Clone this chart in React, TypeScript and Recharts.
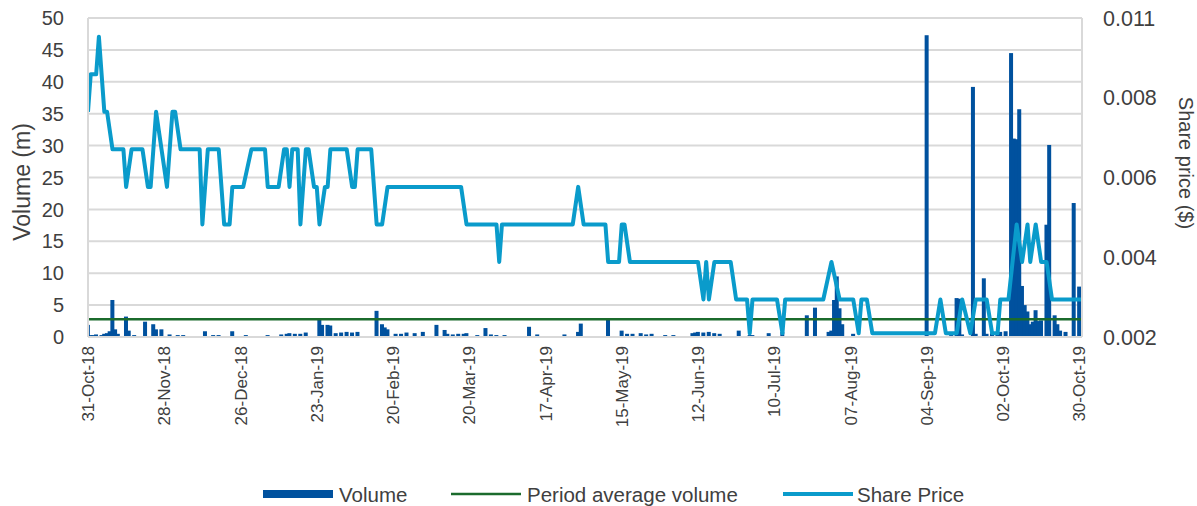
import React from 'react';
import {
  ComposedChart,
  Bar,
  Line,
  XAxis,
  YAxis,
  CartesianGrid,
  ReferenceLine,
  Legend,
} from 'recharts';

const FONT = "'Liberation Sans', Arial, sans-serif";

// X axis: days since 31-Oct-18
const xTickDays = [0, 28, 56, 84, 112, 140, 168, 196, 224, 252, 280, 308, 336, 364];
const xTickLabels = [
  '31-Oct-18', '28-Nov-18', '26-Dec-18', '23-Jan-19', '20-Feb-19', '20-Mar-19', '17-Apr-19',
  '15-May-19', '12-Jun-19', '10-Jul-19', '07-Aug-19', '04-Sep-19', '02-Oct-19', '30-Oct-19',
];

const volumeTicks = [0, 5, 10, 15, 20, 25, 30, 35, 40, 45, 50];
const priceTicks = [0.002, 0.004125, 0.00625, 0.008375, 0.0105];
const priceTickLabels = ['0.002', '0.004', '0.006', '0.008', '0.011'];

const AVG_VOLUME = 2.8;

// [day, volume (m)]
const volume: [number, number][] = [
  [0, 1.9], [1, 0.3], [2, 0.3], [3, 0.4], [5, 0.3], [6, 0.5], [7, 0.6], [8, 0.9], [9, 5.8], [10, 1.2],
  [11, 0.5], [14, 3.2], [15, 1.0], [17, 0.3], [21, 2.4], [24, 2.0], [25, 1.2], [27, 1.2], [30, 0.4],
  [33, 0.3], [35, 0.3], [43, 0.9], [46, 0.3], [48, 0.3], [53, 0.9], [58, 0.3], [66, 0.3], [71, 0.4],
  [73, 0.5], [74, 0.6], [76, 0.5], [78, 0.5], [80, 0.7], [85, 2.7], [86, 1.9], [88, 1.9], [89, 1.8],
  [91, 0.6], [93, 0.7], [95, 0.8], [97, 0.7], [99, 0.8], [106, 4.1], [108, 2.0], [109, 1.5], [110, 1.2],
  [113, 0.5], [115, 0.5], [117, 0.7], [120, 0.6], [123, 0.8], [128, 1.9], [131, 1.1], [132, 0.5],
  [134, 0.4], [136, 0.5], [138, 0.5], [139, 0.6], [143, 0.3], [146, 1.4], [148, 0.4], [150, 0.3],
  [153, 0.3], [162, 1.6], [165, 0.4], [175, 0.4], [180, 0.8], [181, 2.1], [191, 2.8], [196, 1.0],
  [198, 0.5], [200, 0.5], [203, 0.6], [205, 0.4], [207, 0.5], [212, 0.3], [215, 0.3], [222, 0.6],
  [223, 0.7], [224, 0.8], [226, 0.7], [228, 0.8], [230, 0.6], [232, 0.5], [239, 1.0], [243, 0.3],
  [244, 0.3], [250, 0.6], [255, 0.8], [264, 3.4], [267, 4.6], [272, 0.8], [273, 1.0], [274, 5.8],
  [275, 9.5], [276, 4.5], [277, 2.0], [281, 0.5], [308, 47.3], [317, 0.3], [319, 6.1], [320, 6.0],
  [321, 0.4], [325, 39.2], [326, 0.5], [329, 9.2], [330, 0.5], [332, 0.6], [334, 0.5], [335, 0.8],
  [337, 0.9], [339, 44.5], [340, 31.1], [341, 31.0], [342, 35.7], [343, 8.0], [344, 5.0], [345, 4.0],
  [346, 2.0], [347, 2.4], [348, 4.2], [349, 2.5], [350, 2.6], [352, 17.6], [353, 30.1], [355, 3.4],
  [356, 2.0], [357, 1.0], [359, 0.8], [362, 21.0], [364, 7.9],
];

// [day, share price ($)]
const sharePrice: [number, number][] = [
  [0, 0.008], [1, 0.009], [3, 0.009], [4, 0.010], [6, 0.008], [7, 0.008], [9, 0.007], [13, 0.007],
  [14, 0.006], [16, 0.007], [20, 0.007], [22, 0.006], [23, 0.006], [25, 0.008], [29, 0.006], [31, 0.008],
  [32, 0.008], [34, 0.007], [41, 0.007], [42, 0.005], [44, 0.007], [48, 0.007], [50, 0.005], [52, 0.005],
  [53, 0.006], [57, 0.006], [60, 0.007], [65, 0.007], [66, 0.006], [70, 0.006], [72, 0.007], [73, 0.007],
  [74, 0.006], [75, 0.007], [77, 0.007], [78, 0.005], [80, 0.007], [81, 0.007], [83, 0.006], [84, 0.006],
  [85, 0.005], [87, 0.006], [88, 0.006], [89, 0.007], [95, 0.007], [97, 0.006], [98, 0.006], [99, 0.007],
  [104, 0.007], [106, 0.005], [108, 0.005], [110, 0.006], [137, 0.006], [139, 0.005], [150, 0.005],
  [151, 0.004], [152, 0.005], [178, 0.005], [180, 0.006], [182, 0.005], [190, 0.005], [191, 0.004],
  [195, 0.004], [196, 0.005], [197, 0.005], [199, 0.004], [224, 0.004], [226, 0.003], [227, 0.004],
  [228, 0.003], [230, 0.004], [236, 0.004], [238, 0.003], [242, 0.003], [243, 0.0021], [244, 0.003],
  [253, 0.003], [255, 0.0021], [256, 0.003], [270, 0.003], [273, 0.004], [276, 0.003], [281, 0.003],
  [283, 0.0021], [284, 0.003], [286, 0.003], [288, 0.0021], [311, 0.0021], [313, 0.003], [315, 0.0021],
  [319, 0.0021], [321, 0.003], [324, 0.0021], [326, 0.003], [330, 0.003], [332, 0.0021], [334, 0.0021],
  [335, 0.003], [338, 0.003], [341, 0.005], [343, 0.004], [345, 0.005], [346, 0.004], [348, 0.005],
  [350, 0.004], [352, 0.004], [354, 0.003], [365, 0.003],
];

const volumeRows = volume.map(([d, v]) => ({ d, vol: v }));
const priceRows = sharePrice.map(([d, p]) => ({ d, price: p }));

const VOL_COLOR = '#00519E';
const AVG_COLOR = '#1B6B2C';
const PRICE_COLOR = '#0A9BCB';
const GRID = '#d9d9d9';
const TEXT = '#404040';
const BAR_W = 4;

const VolumeBar = (props: any) => {
  const { x, y, width, height } = props;
  if (!height || height <= 0) return null;
  const cx = x + width / 2;
  return <rect x={cx - BAR_W / 2} y={y} width={BAR_W} height={height} fill={VOL_COLOR} />;
};

const XTick = (props: any) => {
  const { x, y, payload } = props;
  const idx = xTickDays.indexOf(payload.value);
  return (
    <g transform={`translate(${x},${y})`}>
      <text
        transform="rotate(-90)"
        x={-9}
        y={0}
        dy="0.36em"
        textAnchor="end"
        fontSize={17}
        fill={TEXT}
        fontFamily={FONT}
      >
        {xTickLabels[idx]}
      </text>
    </g>
  );
};

const renderLegend = () => (
  <svg width={1197} height={30} style={{ display: 'block' }}>
    <rect x={263} y={11} width={70} height={8} fill={VOL_COLOR} />
    <text x={339} y={15} dominantBaseline="central" fontSize={20.5} fill={TEXT} fontFamily={FONT}>
      Volume
    </text>
    <line x1={451} x2={521} y1={15} y2={15} stroke={AVG_COLOR} strokeWidth={2.5} />
    <text x={527} y={15} dominantBaseline="central" fontSize={20.5} fill={TEXT} fontFamily={FONT}>
      Period average volume
    </text>
    <line x1={783} x2={853} y1={15} y2={15} stroke={PRICE_COLOR} strokeWidth={4} />
    <text x={857} y={15} dominantBaseline="central" fontSize={20.5} fill={TEXT} fontFamily={FONT}>
      Share Price
    </text>
  </svg>
);

export default function App() {
  return (
    <div style={{ position: 'absolute', left: 0, top: 0, width: 1197, height: 506 }}>
      <ComposedChart
        width={1197}
        height={506}
        data={volumeRows}
        margin={{ top: 18, right: 0, bottom: 9, left: 0 }}
      >
        <CartesianGrid vertical={false} stroke={GRID} strokeWidth={2} yAxisId="left" />
        <XAxis
          dataKey="d"
          type="number"
          domain={[0, 365]}
          ticks={xTickDays}
          interval={0}
          allowDataOverflow
          height={130}
          tickSize={0}
          tickMargin={0}
          tickLine={false}
          axisLine={{ stroke: GRID, strokeWidth: 2 }}
          tick={<XTick />}
        />
        <YAxis
          yAxisId="left"
          domain={[0, 50]}
          ticks={volumeTicks}
          interval={0}
          width={88}
          tickSize={0}
          tickMargin={24}
          tickLine={false}
          axisLine={{ stroke: GRID, strokeWidth: 2 }}
          tick={{ fontSize: 20, fill: TEXT, fontFamily: FONT }}
          label={{
            content: () => (
              <text
                x={22}
                y={182}
                transform="rotate(-90, 22, 182)"
                textAnchor="middle"
                dominantBaseline="central"
                fontSize={23}
                fill={TEXT}
                fontFamily={FONT}
              >
                Volume (m)
              </text>
            ),
          }}
        />
        <YAxis
          yAxisId="right"
          orientation="right"
          domain={[0.002, 0.0105]}
          ticks={priceTicks}
          interval={0}
          allowDataOverflow
          width={115}
          tickSize={0}
          tickMargin={21}
          tickLine={false}
          axisLine={{ stroke: GRID, strokeWidth: 2 }}
          tick={{ fontSize: 21.5, fill: TEXT, fontFamily: FONT }}
          tickFormatter={(v: number) => priceTickLabels[priceTicks.indexOf(v)] ?? ''}
          label={{
            content: () => (
              <text
                x={1186}
                y={163}
                transform="rotate(90, 1186, 163)"
                textAnchor="middle"
                dominantBaseline="central"
                fontSize={20}
                fill={TEXT}
                fontFamily={FONT}
              >
                Share price ($)
              </text>
            ),
          }}
        />
        <Bar
          dataKey="vol"
          yAxisId="left"
          fill={VOL_COLOR}
          barSize={3}
          shape={<VolumeBar />}
          isAnimationActive={false}
        />
        <ReferenceLine y={AVG_VOLUME} yAxisId="left" stroke={AVG_COLOR} strokeWidth={2.5} />
        <Line
          data={priceRows}
          dataKey="price"
          yAxisId="right"
          type="linear"
          stroke={PRICE_COLOR}
          strokeWidth={4}
          strokeLinejoin="round"
          dot={false}
          activeDot={false}
          isAnimationActive={false}
        />
        <Legend
          verticalAlign="bottom"
          content={renderLegend}
          wrapperStyle={{ top: 479, left: 0, bottom: 'auto', width: 1197, height: 30 }}
        />
      </ComposedChart>
    </div>
  );
}
